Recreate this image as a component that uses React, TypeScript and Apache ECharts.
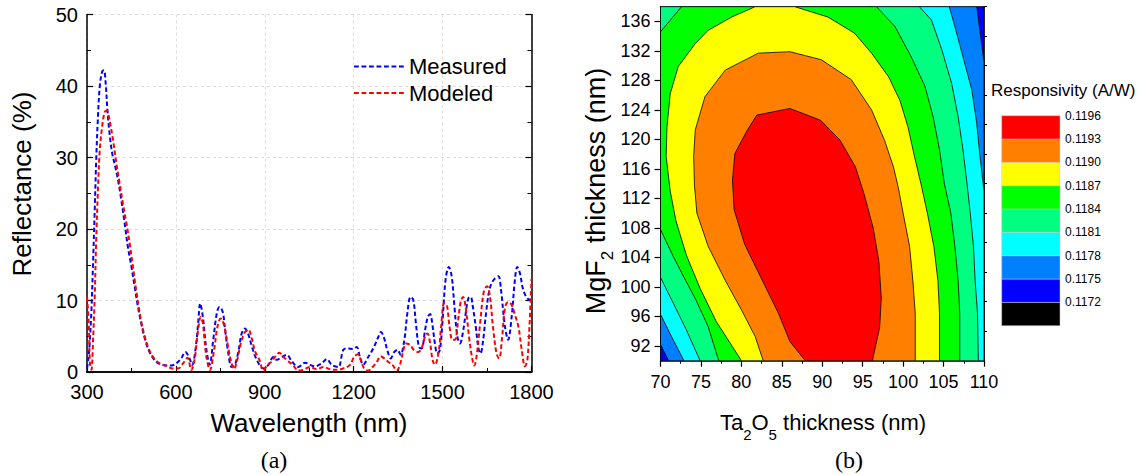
import React, { useEffect, useRef } from 'react';
import * as echarts from 'echarts';

// ---------- Panel (a): reflectance spectra ----------
const measuredWavelength = [
  300, 305, 309, 315, 320, 326, 331, 337, 343, 351, 357, 363, 369, 376, 385, 396, 405, 416, 427, 438,
  450, 461, 472, 483, 495, 511, 534, 556, 585, 601, 618, 632, 646, 655, 666, 675, 682, 691, 703, 714,
  726, 738, 747, 758, 766, 777, 788, 799, 811, 822, 833, 845, 856, 873, 895, 912, 929, 940, 957, 974,
  991, 1013, 1036, 1053, 1069, 1092, 1109, 1126, 1148, 1165, 1182, 1197, 1210, 1221, 1232, 1249, 1266, 1283, 1292, 1303,
  1313, 1325, 1337, 1348, 1358, 1371, 1381, 1392, 1401, 1410, 1420, 1429, 1441, 1450, 1458, 1465, 1474, 1482, 1491, 1500,
  1510, 1521, 1531, 1540, 1550, 1559, 1568, 1578, 1587, 1595, 1601, 1612, 1621, 1628, 1637, 1646, 1658, 1671, 1688, 1697,
  1710, 1721, 1733, 1744, 1752, 1761, 1772, 1786, 1800,
];
const measuredReflectance = [
  0.5, 2.0, 4.0, 8.7, 14.7, 22.6, 29.6, 35.7, 39.9, 42.0, 42.2, 40.4, 36.6, 33.4, 30.6, 28.6, 26.8, 24.0, 20.8, 17.5,
  14.7, 11.9, 9.1, 6.8, 4.7, 2.8, 1.4, 1.0, 0.9, 1.2, 1.9, 2.8, 1.9, 1.0, 3.1, 6.8, 9.6, 7.7, 3.1, 1.0,
  4.5, 8.2, 9.1, 8.4, 5.9, 2.6, 0.7, 1.0, 2.9, 5.4, 6.1, 5.2, 3.6, 1.7, 0.5, 1.0, 2.1, 1.7, 2.1, 2.4,
  1.5, 0.7, 1.3, 1.0, 0.8, 1.2, 1.8, 1.0, 0.7, 3.1, 3.3, 3.2, 3.5, 2.1, 1.0, 2.1, 3.3, 4.9, 5.6, 4.7,
  3.1, 1.9, 2.8, 3.1, 2.4, 4.5, 8.2, 10.5, 10.1, 6.8, 3.5, 3.3, 5.9, 7.7, 8.1, 6.8, 4.0, 2.6, 3.1, 7.3,
  12.9, 14.7, 13.3, 9.1, 4.9, 4.0, 5.4, 8.2, 10.3, 10.5, 9.4, 6.3, 3.3, 2.6, 4.5, 8.0, 11.5, 12.8, 13.4, 11.5,
  6.5, 4.5, 7.7, 12.9, 14.7, 13.8, 11.5, 10.3, 10.0,
];

const modeledWavelength = [
  300, 306, 310, 315, 320, 326, 331, 337, 343, 351, 360, 367, 376, 388, 399, 410, 421, 433, 444, 455,
  466, 478, 489, 506, 523, 545, 568, 590, 607, 624, 639, 652, 663, 672, 684, 691, 703, 715, 729, 740,
  751, 762, 774, 785, 796, 807, 819, 833, 845, 856, 867, 882, 895, 906, 923, 940, 949, 963, 979, 996,
  1013, 1030, 1053, 1075, 1098, 1120, 1143, 1165, 1188, 1201, 1214, 1224, 1235, 1249, 1264, 1278, 1291, 1303, 1317, 1331,
  1345, 1356, 1368, 1376, 1390, 1403, 1418, 1429, 1441, 1449, 1458, 1466, 1474, 1486, 1495, 1505, 1514, 1523, 1533, 1542,
  1553, 1562, 1569, 1578, 1589, 1599, 1607, 1616, 1627, 1639, 1650, 1660, 1670, 1682, 1691, 1700, 1711, 1722, 1733, 1744,
  1756, 1767, 1778, 1786, 1793, 1800,
];
const modeledReflectance = [
  10.5, 6.8, 1.2, 0.3, 4.0, 10.5, 18.5, 25.5, 31.0, 34.3, 36.4, 36.5, 35.2, 32.4, 29.2, 26.4, 23.6, 20.8, 18.0, 14.7,
  11.4, 8.2, 5.9, 3.5, 2.1, 1.2, 0.8, 0.5, 0.5, 1.2, 2.0, 0.3, 1.7, 4.9, 7.7, 6.8, 2.1, 0.3, 3.1, 6.3,
  7.5, 6.6, 4.0, 1.7, 0.4, 1.7, 4.0, 5.6, 5.9, 4.7, 2.9, 1.7, 0.2, 0.8, 1.5, 2.4, 2.7, 2.1, 1.5, 0.9,
  0.2, 0.3, 0.7, 0.4, 0.7, 0.4, 0.3, 0.5, 1.0, 2.1, 2.5, 1.7, 0.5, 0.2, 0.7, 1.4, 2.2, 1.9, 1.4, 1.0,
  0.2, 1.0, 3.1, 4.0, 3.8, 3.1, 2.8, 3.3, 5.0, 5.4, 4.0, 1.7, 1.0, 2.6, 6.3, 9.6, 9.4, 6.5, 4.5, 4.5,
  7.5, 10.0, 10.5, 9.0, 5.0, 2.1, 0.9, 2.6, 7.0, 11.2, 12.0, 10.5, 6.3, 2.6, 1.9, 4.5, 9.1, 9.8, 9.4, 8.0,
  6.3, 3.1, 0.8, 1.7, 6.3, 13.0,
];

// ---------- Panel (b): responsivity contour ----------
const levelLabels = ['0.1172', '0.1175', '0.1178', '0.1181', '0.1184', '0.1187', '0.1190', '0.1193', '0.1196'];
const levelColors = ['#000000', '#0000FF', '#0080FF', '#00FFFF', '#00FF80', '#00FF00', '#FFFF00', '#FF8000', '#FF0000'];

// whole plot (0.1172 – 0.1175 band)
const regionBase = [[70, 90], [110, 90], [110, 138], [70, 138]];
// >= 0.1175
const regionAbove1175 = [[70, 138], [109.1, 138], [110, 130.5], [110, 90], [71.0, 90], [70, 92.2]];
// >= 0.1178
const regionAbove1178 = [
  [70, 138], [105.7, 138], [106.4, 135.3], [107.4, 131.2], [108.5, 126.7], [109.1, 122.2], [109.5, 117.7],
  [109.9, 114], [110, 113], [110, 90], [72.9, 90], [71.4, 93.2], [70, 96.3],
];
// >= 0.1181
const regionAbove1181 = [
  [70, 138], [102.0, 138], [103.5, 136.2], [104.8, 132.1], [106.0, 127.6], [106.8, 123.1], [107.4, 118.6],
  [107.9, 114], [108.3, 110], [108.7, 105.5], [108.9, 100.9], [109.2, 96.4], [109.3, 90], [74.9, 90],
  [73.1, 94.4], [71.4, 98.2], [70, 101.3],
];
// >= 0.1184
const regionAbove1184 = [
  [70, 134.6], [72.6, 138], [96.7, 138], [99.0, 135.3], [101.0, 131.2], [102.7, 127.2], [103.7, 123.1],
  [104.5, 118.6], [105.1, 114], [105.9, 110], [106.4, 105.5], [106.8, 100.9], [107.0, 96.4], [107.0, 90],
  [77.2, 90], [75.9, 94.6], [74.4, 98.2], [72.9, 101.3], [71.5, 104.3], [70, 107.8],
];
// >= 0.1187
const regionAbove1187 = [
  [81.7, 138], [86.6, 138], [90.7, 136.6], [94.0, 134.4], [96.1, 131.7], [98.2, 128.5], [99.6, 125.3],
  [100.6, 121.7], [101.4, 117.7], [102.2, 114], [103.0, 110], [103.8, 105.5], [104.3, 100.9], [104.5, 96.4],
  [104.5, 90], [80.0, 90], [78.9, 91.9], [76.9, 95.3], [74.9, 99.8], [73.2, 104.3], [71.9, 109], [71.2, 113],
  [70.7, 117.7], [70.8, 121.7], [71.2, 126.2], [72.2, 129.9], [74.3, 133.0], [75.9, 134.8], [78.8, 136.6],
];
// >= 0.1190
const regionAbove1190 = [
  [86.0, 131.9], [89.9, 130.8], [93.6, 128.1], [96.1, 124.0], [97.7, 119.9], [98.8, 116.3], [99.4, 113.5],
  [100.0, 110], [100.8, 105.5], [101.2, 100.9], [101.5, 96.4], [101.5, 90], [82.7, 90], [81.7, 93.3],
  [80.0, 96.9], [78.0, 100.9], [75.9, 105.5], [74.5, 110], [74.2, 113.8], [74.1, 117.7], [74.3, 121.3],
  [75.5, 125.8], [78.0, 129.4], [82.1, 131.7],
];
// >= 0.1193
const regionAbove1193 = [
  [86.0, 124.2], [89.8, 122.6], [92.2, 119.9], [94.1, 116.3], [95.2, 112.5], [96.3, 108.0], [97.0, 103.5],
  [97.3, 98.5], [97.1, 94.5], [96.2, 90], [87.9, 90], [86.0, 92.6], [84.6, 96.4], [82.4, 101.3], [80.4, 105.8],
  [79.1, 110.5], [78.9, 114.5], [79.2, 118.1], [80.6, 121.0], [81.9, 123.3],
];

const contourRegions = [
  { points: regionBase, color: levelColors[1] },
  { points: regionAbove1175, color: levelColors[2] },
  { points: regionAbove1178, color: levelColors[3] },
  { points: regionAbove1181, color: levelColors[4] },
  { points: regionAbove1184, color: levelColors[5] },
  { points: regionAbove1187, color: levelColors[6] },
  { points: regionAbove1190, color: levelColors[7] },
  { points: regionAbove1193, color: levelColors[8] },
];

const SANS = 'Liberation Sans, Arial, Helvetica, sans-serif';
const SERIF = 'Liberation Serif, Times New Roman, serif';

// dashed-line legend glyph (7 dashes)
const DASH_ICON =
  'path://M0,0h4.8v2h-4.8z M7.5,0h4.8v2h-4.8z M15,0h4.8v2h-4.8z M22.5,0h4.8v2h-4.8z M30,0h4.8v2h-4.8z M37.5,0h4.8v2h-4.8z M45,0h4.8v2h-4.8z';

function buildOption(): any {
  const axisLineBlack = { show: true, lineStyle: { color: '#000', width: 1.5 } };
  const plain = (v: number) => String(v);
  return {
    animation: false,
    backgroundColor: '#ffffff',
    grid: [
      { left: 87, top: 14.5, width: 444.5, height: 357.5, containLabel: false },
      { left: 660.5, top: 6.7, width: 323.5, height: 354, containLabel: false },
      { left: 1001.7, top: 115.7, width: 58.3, height: 210, containLabel: false },
    ],
    legend: {
      data: [
        { name: 'Measured', icon: DASH_ICON },
        { name: 'Modeled', icon: DASH_ICON },
      ],
      orient: 'vertical',
      left: 349,
      top: 50.5,
      itemWidth: 50,
      itemHeight: 2,
      itemGap: 4.5,
      textStyle: { fontSize: 22, fontFamily: SANS, color: '#000' },
    },
    xAxis: [
      {
        gridIndex: 0, type: 'value', min: 300, max: 1800, interval: 300,
        axisLine: axisLineBlack,
        axisTick: { show: true, inside: true, length: 6, lineStyle: { color: '#000', width: 1.2 } },
        minorTick: { show: true, splitNumber: 2, length: 4, lineStyle: { color: '#000', width: 1 } },
        axisLabel: { fontSize: 20, fontFamily: SANS, color: '#000', margin: 10, formatter: plain },
        splitLine: { show: true, lineStyle: { color: '#d4d4d4', width: 0.8, type: [3, 3] } },
      },
      {
        gridIndex: 0, type: 'value', min: 300, max: 1800, interval: 300, position: 'top',
        axisLine: axisLineBlack, axisTick: { show: false }, axisLabel: { show: false }, splitLine: { show: false },
      },
      {
        gridIndex: 1, type: 'value', min: 70, max: 110, interval: 5,
        axisLine: axisLineBlack,
        axisTick: { show: true, inside: false, length: 6, lineStyle: { color: '#000', width: 1.2 } },
        minorTick: { show: true, splitNumber: 2, length: 3, lineStyle: { color: '#000', width: 1 } },
        axisLabel: { fontSize: 18, fontFamily: SANS, color: '#000', margin: 12, formatter: plain },
        splitLine: { show: false },
      },
      {
        gridIndex: 1, type: 'value', min: 70, max: 110, interval: 5, position: 'top',
        axisLine: axisLineBlack, axisTick: { show: false }, axisLabel: { show: false }, splitLine: { show: false },
      },
      {
        gridIndex: 2, type: 'value', min: 0, max: 1, show: false,
      },
    ],
    yAxis: [
      {
        gridIndex: 0, type: 'value', min: 0, max: 50, interval: 10,
        axisLine: axisLineBlack,
        axisTick: { show: true, inside: true, length: 6, lineStyle: { color: '#000', width: 1.2 } },
        minorTick: { show: true, splitNumber: 2, length: 4, lineStyle: { color: '#000', width: 1 } },
        axisLabel: { fontSize: 20, fontFamily: SANS, color: '#000', margin: 9 },
        splitLine: { show: true, lineStyle: { color: '#d4d4d4', width: 0.8, type: [3, 3] } },
      },
      {
        gridIndex: 0, type: 'value', min: 0, max: 50, interval: 10, position: 'right',
        axisLine: axisLineBlack,
        axisTick: { show: true, inside: true, length: 6, lineStyle: { color: '#000', width: 1.2 } },
        minorTick: { show: true, splitNumber: 2, length: 4, lineStyle: { color: '#000', width: 1 } },
        axisLabel: { show: false }, splitLine: { show: false },
      },
      {
        gridIndex: 1, type: 'value', min: 90, max: 138,
        axisLine: axisLineBlack,
        axisTick: {
          show: true, inside: false, length: 6, lineStyle: { color: '#000', width: 1.2 },
          customValues: [92, 96, 100, 104, 108, 112, 116, 120, 124, 128, 132, 136],
        },
        axisLabel: {
          fontSize: 18, fontFamily: SANS, color: '#000', margin: 10,
          customValues: [92, 96, 100, 104, 108, 112, 116, 120, 124, 128, 132, 136],
        },
        splitLine: { show: false },
      },
      {
        gridIndex: 1, type: 'value', min: 90, max: 138,
        axisLine: { show: false },
        axisTick: {
          show: true, inside: false, length: 3, lineStyle: { color: '#000', width: 1 },
          customValues: [94, 98, 102, 106, 110, 114, 118, 122, 126, 130, 134, 138],
        },
        axisLabel: { show: false, customValues: [94] },
        splitLine: { show: false },
      },
      {
        gridIndex: 1, type: 'value', min: 90, max: 138, position: 'right',
        axisLine: axisLineBlack, axisTick: { show: false }, axisLabel: { show: false }, splitLine: { show: false },
      },
      {
        gridIndex: 2, type: 'value', min: 0, max: 9, interval: 1, position: 'right',
        axisLine: { show: false }, axisTick: { show: false }, splitLine: { show: false },
        axisLabel: {
          fontSize: 12, fontFamily: SANS, color: '#000', margin: 5,
          formatter: (v: number) => {
            const i = Math.round(v);
            return i >= 1 ? levelLabels[i - 1] : '';
          },
        },
      },
    ],
    series: [
      {
        type: 'line', name: 'Measured', xAxisIndex: 0, yAxisIndex: 0,
        data: measuredWavelength.map((w, i) => [w, measuredReflectance[i]]),
        symbol: 'none', showSymbol: false, smooth: 0.35, clip: true,
        lineStyle: { color: '#0000FF', width: 2, type: [4.5, 2.7] },
        itemStyle: { color: '#0000FF' },
      },
      {
        type: 'line', name: 'Modeled', xAxisIndex: 0, yAxisIndex: 0,
        data: modeledWavelength.map((w, i) => [w, modeledReflectance[i]]),
        symbol: 'none', showSymbol: false, smooth: 0.35, clip: true,
        lineStyle: { color: '#FF0000', width: 2, type: [4.5, 2.7] },
        itemStyle: { color: '#FF0000' },
      },
      {
        type: 'custom', name: 'contour', xAxisIndex: 2, yAxisIndex: 2, clip: true, silent: true,
        z: 1,
        data: contourRegions.map((r, i) => [r.points[0][0], r.points[0][1], i]),
        renderItem: (params: any, api: any) => {
          const region = contourRegions[params.dataIndex];
          const pts = region.points.map((p) => api.coord(p));
          return {
            type: 'polygon',
            shape: { points: pts },
            style: { fill: region.color, stroke: '#000', lineWidth: 0.8 },
          };
        },
      },
      {
        type: 'custom', name: 'colorbar', xAxisIndex: 4, yAxisIndex: 5, silent: true,
        data: levelColors.map((c, i) => [0, i]),
        renderItem: (params: any, api: any) => {
          const i = params.dataIndex;
          const p0 = api.coord([0, i]);
          const p1 = api.coord([1, i + 1]);
          return {
            type: 'rect',
            shape: { x: p0[0], y: p1[1], width: p1[0] - p0[0], height: p0[1] - p1[1] },
            style: { fill: levelColors[i], stroke: '#c8c8c8', lineWidth: 0.5 },
          };
        },
      },
    ],
    graphic: [
      {
        type: 'text', x: 22, y: 184, rotation: Math.PI / 2,
        style: { text: 'Reflectance (%)', fontSize: 26, fontFamily: SANS, fill: '#000', align: 'center', verticalAlign: 'middle' },
      },
      {
        type: 'text', x: 309, y: 423,
        style: { text: 'Wavelength (nm)', fontSize: 26, fontFamily: SANS, fill: '#000', align: 'center', verticalAlign: 'middle' },
      },
      {
        type: 'text', x: 274, y: 460,
        style: { text: '(a)', fontSize: 24, fontFamily: SERIF, fill: '#000', align: 'center', verticalAlign: 'middle' },
      },
      {
        type: 'text', x: 849, y: 460,
        style: { text: '(b)', fontSize: 24, fontFamily: SERIF, fill: '#000', align: 'center', verticalAlign: 'middle' },
      },
      {
        type: 'text', x: 596, y: 191, rotation: Math.PI / 2,
        style: {
          text: '{m|MgF}{s|2}{m| thickness (nm)}',
          align: 'center', verticalAlign: 'middle', fill: '#000',
          rich: {
            m: { fontSize: 27, fontFamily: SANS, fill: '#000' },
            s: { fontSize: 17, fontFamily: SANS, fill: '#000', padding: [22, 0, 0, 0] },
          },
        },
      },
      {
        type: 'text', x: 823, y: 422,
        style: {
          text: '{m|Ta}{s|2}{m|O}{s|5}{m| thickness (nm)}',
          align: 'center', verticalAlign: 'middle', fill: '#000',
          rich: {
            m: { fontSize: 22, fontFamily: SANS, fill: '#000' },
            s: { fontSize: 15, fontFamily: SANS, fill: '#000', padding: [24, 0, 0, 0] },
          },
        },
      },
      {
        type: 'text', x: 991, y: 90,
        style: { text: 'Responsivity (A/W)', fontSize: 17, fontFamily: SANS, fill: '#000', align: 'left', verticalAlign: 'middle' },
      },
    ],
  };
}

export default function App() {
  const ref = useRef<HTMLDivElement>(null);
  useEffect(() => {
    if (!ref.current) return;
    const chart = echarts.init(ref.current, undefined, { renderer: 'svg' });
    chart.setOption(buildOption());
    return () => chart.dispose();
  }, []);
  return (
    <div
      ref={ref}
      style={{ position: 'fixed', left: 0, top: 0, width: 1141, height: 475, background: '#fff' }}
    />
  );
}
